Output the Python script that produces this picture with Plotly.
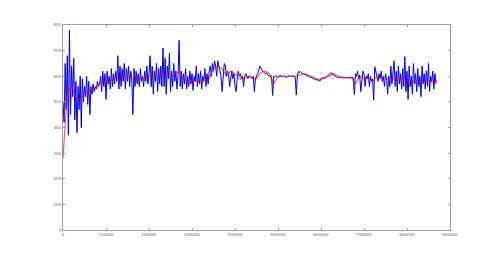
import numpy as np
import plotly.graph_objects as go

# Raw signal (blue), one value every 2500 samples
blue = [
    500, 420, 650, 470, 680, 370, 780, 450, 640, 520, 670, 430,
    580, 380, 560, 470, 600, 400, 590, 500, 560, 520, 600, 490, 580, 450,
    560, 530, 570, 540, 560, 550, 580, 560, 570,
    600, 540, 620, 560, 610, 510, 620, 570, 600, 550, 630, 560, 610, 570, 620, 580,
    680, 550, 640, 560, 630, 580, 650, 550, 630, 580, 640, 560, 620, 590,
    450,
    630, 560, 620, 570, 610, 560, 630, 580, 600, 560, 620, 580, 640, 570, 610,
    680, 560, 640, 530, 620, 580, 650, 540, 630, 570, 640, 560, 710,
    560, 670, 530, 640, 590, 690, 540, 620, 560, 650, 580, 620, 550, 600, 740,
    560, 620, 550, 610, 570, 630, 550, 600, 560, 620, 570, 610, 545, 600,
    580, 640, 560, 610, 570, 620, 550, 600, 580, 630, 560, 610, 570, 620,
    640, 600, 650, 620, 660, 640, 600, 660, 640, 620, 600, 540, 620, 650,
    640, 600, 620, 610, 560, 600, 620, 590, 610, 560, 540, 590, 620, 600,
    610, 590, 600, 560, 600, 610, 600, 590, 600,
    600, 595, 590, 600, 540, 590, 600, 605, 620, 640, 630,
    625, 620, 615, 610, 612, 608, 605, 600, 605, 600, 525,
    600, 598, 602, 600, 595, 600, 605, 600, 598, 602, 600, 598, 595, 600,
    603, 600, 598, 602, 600, 600, 598, 527,
    600, 620, 615, 618, 612, 610,
    610, 605, 608, 600, 602, 598, 595, 598, 590, 592, 588, 585, 590, 583, 585, 581,
    590, 592, 595, 593, 595, 598, 600, 605, 610, 614, 608, 612, 605, 600, 598,
    595, 593, 596, 594, 595, 597, 593, 595, 592, 596, 594, 595, 593, 597, 595, 594, 529,
    610, 600, 620, 590, 605, 540, 600, 620, 610, 560, 600, 590, 610, 560, 600, 580, 590, 507,
    637, 620, 600, 580, 610, 590, 620, 580, 600, 560, 610, 590, 530, 600,
    560, 640, 570, 630, 660, 560, 620, 540, 640, 570, 610, 550, 630, 560, 676, 540,
    620, 510, 640, 560, 600, 530, 650, 570, 610, 540, 630, 560, 600, 520,
    640, 570, 610, 550, 620, 560, 650, 540, 600, 580, 620, 550, 610, 570,
]
blue_step = 2500

# Smoothed signal (red), one value every 10000 samples
red = [
    280, 540, 560, 520, 510, 530, 540, 550, 560, 580,
    585, 580, 590, 600, 605, 600, 590, 585, 590, 595,
    600, 605, 600, 610, 605, 600, 605, 620, 590, 580,
    585, 580, 580, 585, 590, 630, 640, 630, 600, 620,
    610, 590, 590, 600, 595, 590, 615, 620, 610, 570,
    598, 600, 600, 600, 600, 605, 610, 605, 598, 590,
    588, 595, 600, 608, 600, 595, 595, 595, 570, 600,
    590, 595, 580, 600, 600, 595, 580, 590, 585, 590,
    580, 580, 575, 580, 585, 580, 578, 582,
]
red_step = 10000

x_ticks = [0, 100000, 200000, 300000, 400000, 500000, 600000, 700000, 800000, 900000]
y_ticks = [0, 100, 200, 300, 400, 500, 600, 700, 800]

bx = np.arange(len(blue)) * blue_step
rx = np.arange(len(red)) * red_step

fig = go.Figure()
fig.add_trace(go.Scatter(x=bx, y=blue, mode="lines",
                         line=dict(color="#0000ee", width=1), showlegend=False))
fig.add_trace(go.Scatter(x=rx, y=red, mode="lines",
                         line=dict(color="#ff0000", width=1.2), opacity=0.65,
                         showlegend=False))

axis_common = dict(showgrid=False, zeroline=False, showline=True, mirror="ticks",
                   linecolor="#999999", linewidth=1, ticks="inside", ticklen=2,
                   tickcolor="#999999", tickfont=dict(size=4, color="#666666",
                                                      family="DejaVu Sans"))
fig.update_layout(
    width=500, height=256,
    margin=dict(l=63, r=50, t=25, b=26),
    paper_bgcolor="white", plot_bgcolor="white",
    xaxis=dict(range=[0, 900000], tickvals=x_ticks,
               ticktext=[str(v) for v in x_ticks], **axis_common),
    yaxis=dict(range=[0, 800], tickvals=y_ticks,
               ticktext=[str(v) for v in y_ticks], **axis_common),
)
fig.write_html("out.html")
